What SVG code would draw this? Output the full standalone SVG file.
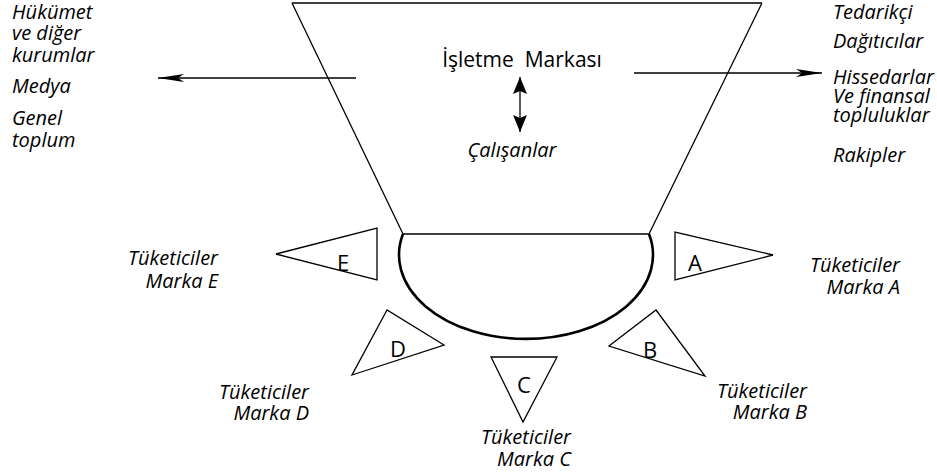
<svg xmlns="http://www.w3.org/2000/svg" width="937" height="473" viewBox="0 0 937 473">
<style>
.ln{fill:none;stroke:#000;stroke-width:1.3}
.thick{fill:none;stroke:#000;stroke-width:2.6}
.tri{fill:#fff;stroke:#000;stroke-width:1.3;stroke-linejoin:miter}
.it{font-family:"Open Sans","Noto Sans",sans-serif;font-style:italic;font-size:20px;fill:#000}
.rg{font-family:"Open Sans","Noto Sans",sans-serif;font-size:21px;fill:#000}
.lt{font-family:"Open Sans","Noto Sans",sans-serif;font-size:22px;fill:#000;text-anchor:middle}
.e{text-anchor:end}
</style>
<defs>
<marker id="ah" markerUnits="userSpaceOnUse" markerWidth="26" markerHeight="8" viewBox="0 0 26 8" refX="26" refY="4" orient="auto">
<path d="M0,0 L26,4 L0,8 L6,4 Z" fill="#000"/>
</marker>
<marker id="dh" markerUnits="userSpaceOnUse" markerWidth="17" markerHeight="14" viewBox="0 0 17 14" refX="17" refY="7" orient="auto-start-reverse">
<path d="M0,0 L17,7 L0,14 L3,7 Z" fill="#000"/>
</marker>
</defs>
<g id="brand">
<path class="ln" d="M292,3 L762,3 M292,3 L403,234 M762,3 L649,234 M403,234 L649,234"/>
<path class="thick" d="M403,234 A127,84 0 1,0 649,234"/>
<text class="rg" x="522" y="67" text-anchor="middle" xml:space="preserve">İşletme  Markası</text>
<text class="it" x="512" y="157" text-anchor="middle">Çalışanlar</text>
</g>
<g id="connectors">
<line class="ln" x1="356" y1="78" x2="158" y2="78" marker-end="url(#ah)"/>
<line class="ln" x1="634" y1="73" x2="822" y2="73" marker-end="url(#ah)"/>
<line class="ln" x1="520" y1="77" x2="520" y2="132" marker-start="url(#dh)" marker-end="url(#dh)"/>
</g>
<g id="left-stakeholders">
<text class="it" x="12" y="19">Hükümet</text>
<text class="it" x="12" y="40">ve diğer</text>
<text class="it" x="12" y="62">kurumlar</text>
<text class="it" x="12" y="93">Medya</text>
<text class="it" x="12" y="125">Genel</text>
<text class="it" x="12" y="147">toplum</text>
</g>
<g id="right-stakeholders">
<text class="it" x="833" y="19">Tedarikçi</text>
<text class="it" x="833" y="48">Dağıtıcılar</text>
<text class="it" x="833" y="84">Hissedarlar</text>
<text class="it" x="833" y="103">Ve finansal</text>
<text class="it" x="833" y="122">topluluklar</text>
<text class="it" x="833" y="162">Rakipler</text>
</g>
<g id="brand-E">
<polygon class="tri" points="276,254 377,228 377,280"/>
<text class="lt" x="343" y="271">E</text>
<text class="it e" x="218" y="265">Tüketiciler</text>
<text class="it e" x="218" y="288">Marka E</text>
</g>
<g id="brand-A">
<polygon class="tri" points="675,232 675,280 773,255"/>
<text class="lt" x="695" y="271">A</text>
<text class="it e" x="900" y="272">Tüketiciler</text>
<text class="it e" x="900" y="294">Marka A</text>
</g>
<g id="brand-B">
<polygon class="tri" points="656,310 705,376 609,346"/>
<text class="lt" x="650" y="358">B</text>
<text class="it e" x="807" y="398">Tüketiciler</text>
<text class="it e" x="807" y="419">Marka B</text>
</g>
<g id="brand-C">
<polygon class="tri" points="491,357 557,357 523,422"/>
<text class="lt" x="524" y="393">C</text>
<text class="it e" x="571" y="444">Tüketiciler</text>
<text class="it e" x="571" y="466">Marka C</text>
</g>
<g id="brand-D">
<polygon class="tri" points="387,310 352,375 444,345"/>
<text class="lt" x="398" y="357">D</text>
<text class="it e" x="309" y="399">Tüketiciler</text>
<text class="it e" x="309" y="420">Marka D</text>
</g>
</svg>
